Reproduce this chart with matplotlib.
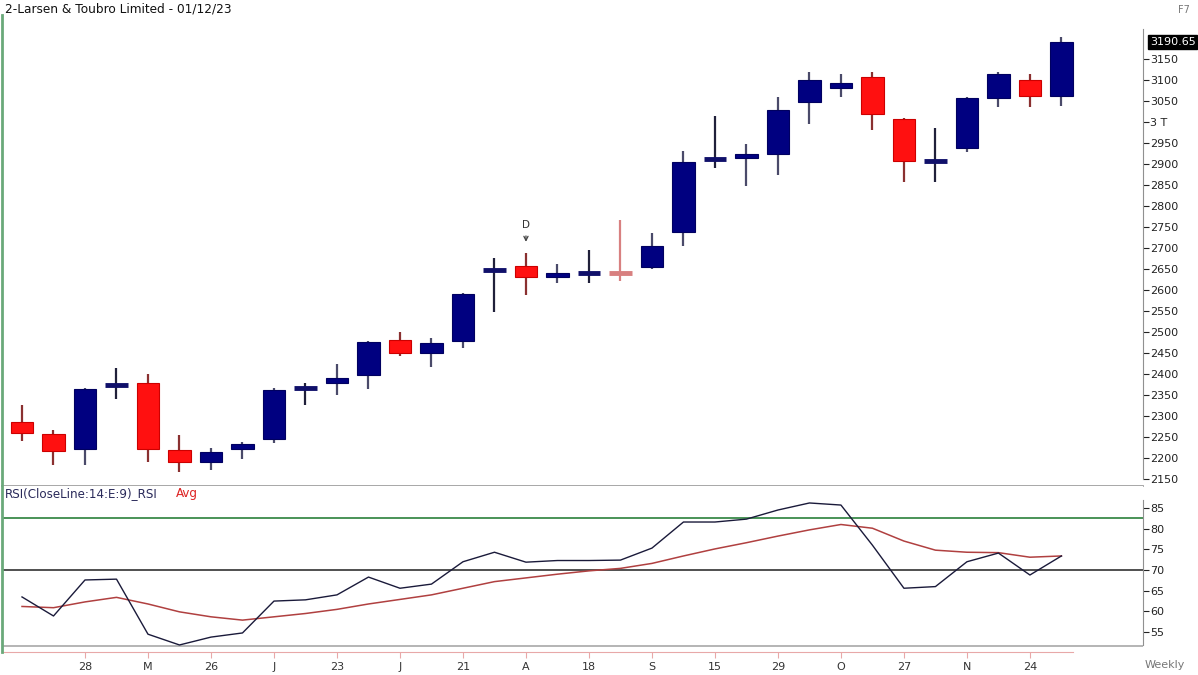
import matplotlib
matplotlib.use("Agg")
import matplotlib.pyplot as plt
import numpy as np

# Weekly candles, Larsen & Toubro (14 Apr 2023 .. 1 Dec 2023)
opens = [2286, 2257, 2221, 2372, 2379, 2219, 2190, 2221, 2245, 2365, 2379, 2398,
         2481, 2450, 2479, 2645, 2657, 2631, 2638, 2643, 2655, 2738, 2909, 2914,
         2924, 3048, 3081, 3107, 3007, 2905, 2938, 3057, 3100, 3062]
highs = [2326, 2267, 2366, 2414, 2400, 2255, 2224, 2238, 2367, 2378, 2424, 2479,
         2500, 2486, 2593, 2676, 2688, 2662, 2695, 2767, 2736, 2931, 3014, 2948,
         3060, 3119, 3114, 3119, 3010, 2986, 3060, 3119, 3114, 3202]
lows = [2240, 2183, 2183, 2340, 2190, 2167, 2171, 2198, 2236, 2326, 2350, 2364,
        2443, 2417, 2462, 2548, 2588, 2617, 2617, 2621, 2650, 2705, 2890, 2848,
        2874, 2995, 3060, 2981, 2857, 2857, 2929, 3036, 3036, 3038]
closes = [2260, 2217, 2364, 2377, 2221, 2190, 2214, 2233, 2362, 2370, 2390, 2476,
          2450, 2474, 2590, 2650, 2631, 2640, 2643, 2638, 2705, 2905, 2914, 2924,
          3029, 3100, 3093, 3019, 2907, 2910, 3057, 3114, 3062, 3190.65]

rsi = [63.5, 58.9, 67.6, 67.8, 54.5, 51.9, 53.8, 54.8, 62.5, 62.8, 64.0, 68.3,
       65.6, 66.6, 72.0, 74.3, 71.9, 72.3, 72.3, 72.4, 75.3, 81.6, 81.6, 82.3,
       84.5, 86.2, 85.7, 76.0, 65.6, 66.0, 72.0, 74.1, 68.8, 73.4]
rsi_avg = [61.2, 60.9, 62.3, 63.4, 61.8, 59.9, 58.7, 57.9, 58.7, 59.5, 60.5, 61.8,
           62.9, 64.0, 65.6, 67.2, 68.1, 69.0, 69.8, 70.4, 71.6, 73.4, 75.1, 76.6,
           78.2, 79.7, 81.0, 80.1, 77.0, 74.8, 74.3, 74.2, 73.1, 73.4]

date_ticks = [2, 4, 6, 8, 10, 12, 14, 16, 18, 20, 22, 24, 26, 28, 30, 32]
date_labels = ["28", "M", "26", "J", "23", "J", "21", "A", "18", "S", "15", "29",
               "O", "27", "N", "24"]

price_ticks = list(range(2150, 3151, 50))
price_labels = ["3 T" if p == 3000 else str(p) for p in price_ticks]
rsi_ticks = [55, 60, 65, 70, 75, 80, 85]

W, H = 1198, 675
fig = plt.figure(figsize=(W / 100, H / 100), dpi=100)
fig.patch.set_facecolor("white")

x = np.arange(len(closes))
xlim = (-0.635, 35.59)
left = 2 / W
width = (1143 - 2) / W

# ---------------- price panel ----------------
ax = fig.add_axes([left, 1 - 486 / H, width, (486 - 15) / H])
ax.set_xlim(*xlim)
ax.set_ylim(2133.3, 3254.8)

navy = "#000080"
red = "#ff1010"
for i in range(len(closes)):
    o, h, l, c = opens[i], highs[i], lows[i], closes[i]
    up = c >= o
    body_col = navy if up else red
    wick_col = "#4a4a6a" if up else "#8a3030"
    if abs(c - o) < 8:
        # doji-like: thin bar
        if i == 19:
            body_col = "#d88080"
            wick_col = "#d88080"
        else:
            body_col = "#10106a"
            wick_col = "#20203a"
        ax.vlines(i, l, h, color=wick_col, lw=1.6, zorder=1)
        ax.hlines((o + c) / 2, i - 0.36, i + 0.36, color=body_col, lw=3.5, zorder=2)
    else:
        ax.vlines(i, l, h, color=wick_col, lw=1.6, zorder=1)
        ax.bar(i, abs(c - o), bottom=min(o, c), width=0.72, color=body_col,
               edgecolor="#000060" if up else "#cc0000", lw=0.8, zorder=2)

ax.annotate("D", xy=(16, 2708), xytext=(16, 2742), ha="center", va="bottom",
            fontsize=7.5, color="#333333",
            arrowprops=dict(arrowstyle="->", color="#444444", lw=0.9))

for s in ["top", "left"]:
    ax.spines[s].set_visible(False)
ax.spines["bottom"].set_color("#a0a0a0")
ax.spines["bottom"].set_linewidth(1.3)
ax.spines["right"].set_color("#909090")
ax.spines["right"].set_bounds(2150, 3222)
ax.yaxis.tick_right()
ax.set_yticks(price_ticks)
ax.set_yticklabels(price_labels)
ax.tick_params(axis="y", direction="out", length=4, pad=1, labelsize=8,
               colors="#222222")
ax.set_xticks([])

# current price tag
ax.text(1.006, (3190.65 - 2133.3) / (3254.8 - 2133.3), "3190.65",
        transform=ax.transAxes, fontsize=8, color="white", va="center", ha="left",
        bbox=dict(boxstyle="square,pad=0.15", fc="black", ec="black"), clip_on=False)

# ---------------- RSI panel ----------------
ax2 = fig.add_axes([left, 1 - 652 / H, width, (652 - 486) / H])
ax2.set_xlim(*xlim)
ax2.set_ylim(50.2, 90.3)
ax2.axhline(82.5, color="#3a8a4a", lw=1.3)
ax2.axhline(70, color="#202020", lw=1.1)
ax2.axhline(51.6, color="#a8a8a8", lw=1.2)
ax2.plot(x, rsi_avg, color="#b04040", lw=1.1)
ax2.plot(x, rsi, color="#1a1a3a", lw=1.0)

ax2.spines["top"].set_visible(False)
ax2.spines["left"].set_visible(False)
ax2.spines["right"].set_color("#909090")
ax2.spines["right"].set_bounds(52, 87)
ax2.spines["bottom"].set_color("#e8a8a8")
ax2.spines["bottom"].set_bounds(xlim[0], 33.37)
ax2.yaxis.tick_right()
ax2.set_yticks(rsi_ticks)
ax2.tick_params(axis="y", direction="out", length=4, pad=1, labelsize=8,
                colors="#222222")
ax2.set_xticks(date_ticks)
ax2.set_xticklabels(date_labels)
ax2.tick_params(axis="x", direction="out", length=4, pad=3, labelsize=8,
                colors="#e8a8a8", labelcolor="#333333")

# left green border line across both panels
fig.add_artist(plt.Line2D([2 / W, 2 / W], [1 - 652 / H, 1 - 15 / H],
                          color="#6aa97a", lw=2, transform=fig.transFigure))

# texts
fig.text(5 / W, 1 - 9 / H, "2-Larsen & Toubro Limited - 01/12/23", fontsize=8.7,
         color="#111111", va="center", ha="left")
fig.text(1178 / W, 1 - 10 / H, "F7", fontsize=7, color="#777777", va="center")
fig.text(1145 / W, 1 - 665 / H, "Weekly", fontsize=8, color="#777777", va="center")
fig.text(5 / W, 1 - 494 / H, "RSI(CloseLine:14:E:9)_RSI", fontsize=8.6,
         color="#2a2a5a", va="center", ha="left")
fig.text(176 / W, 1 - 494 / H, "Avg", fontsize=8.6, color="#dd2222",
         va="center", ha="left")

fig.savefig("out.png", dpi=100, facecolor="white")
